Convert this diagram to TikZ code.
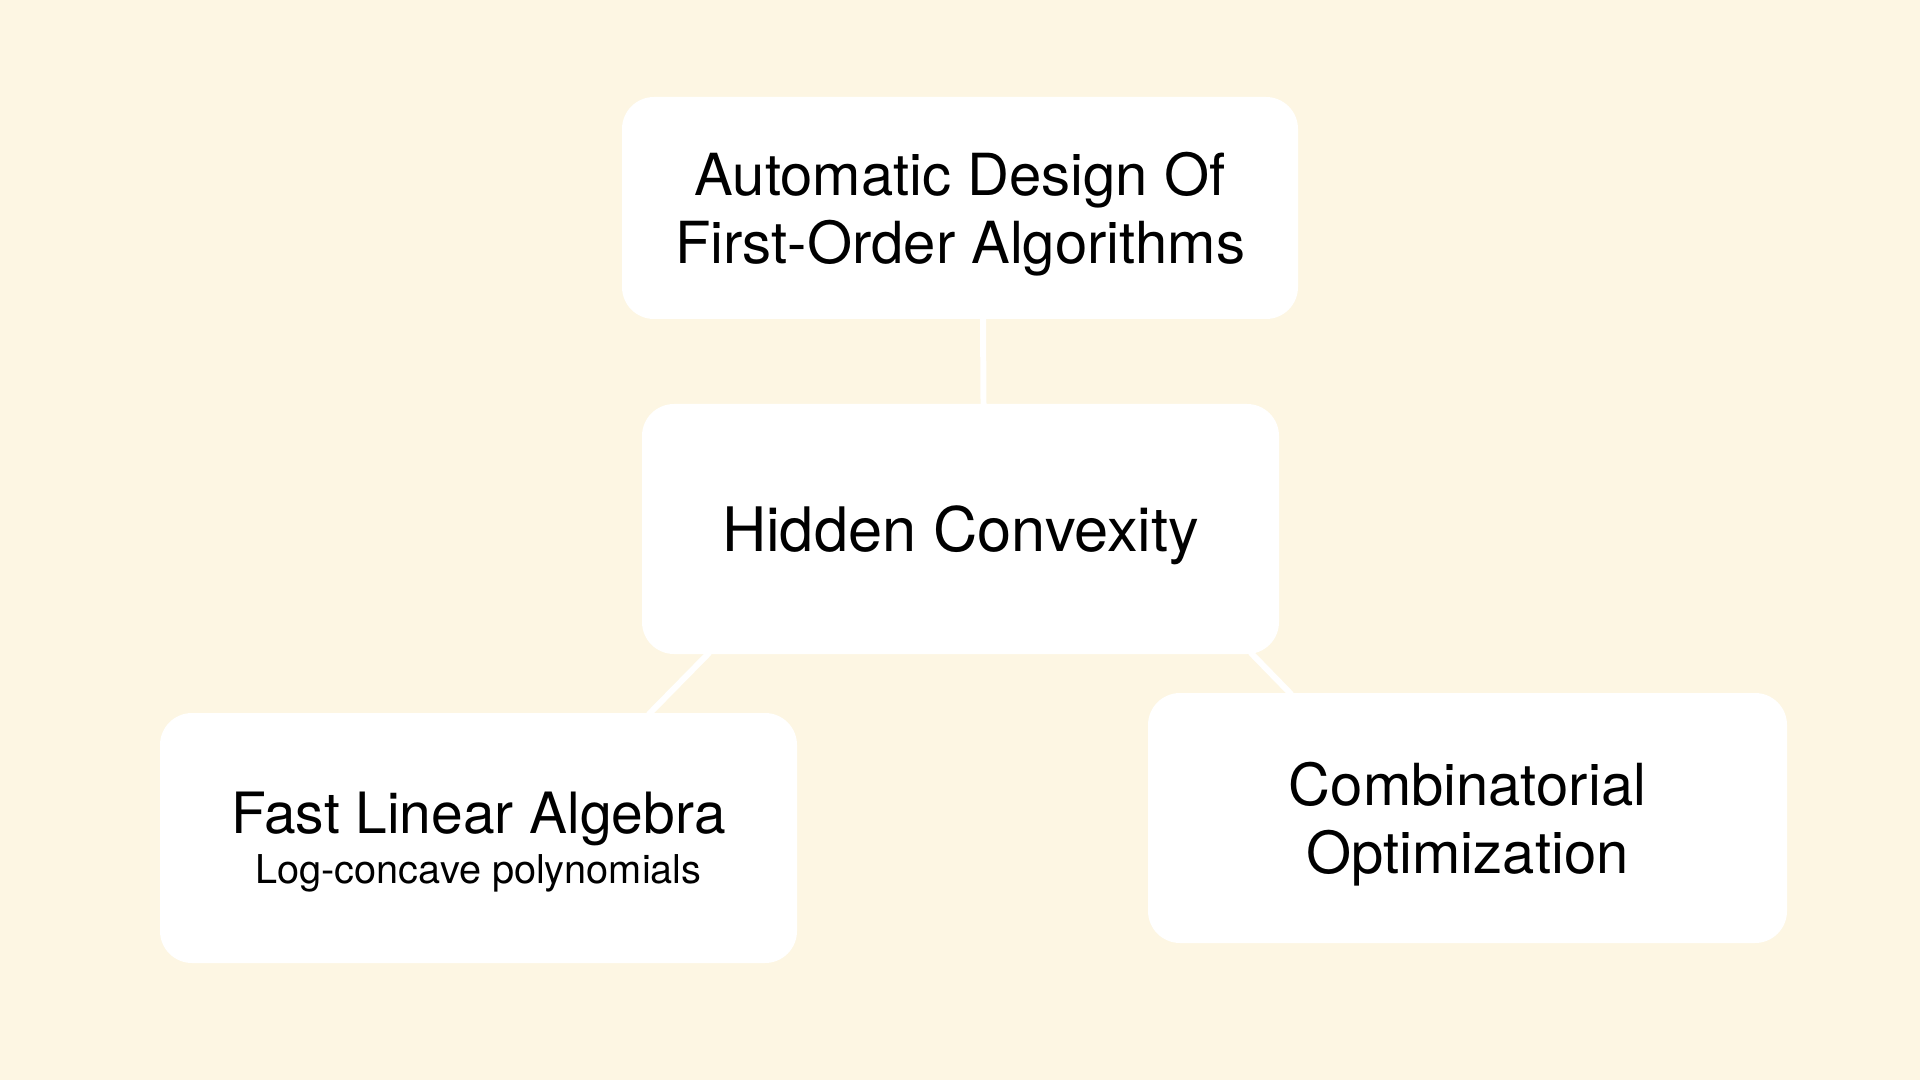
\documentclass[tikz,border=0pt]{standalone}
\usepackage{fontspec}
\setmainfont{TeX Gyre Heros}
\usepackage{tikz}
\usetikzlibrary{calc}
\definecolor{creambg}{HTML}{FDF6E3}

\begin{document}
\begin{tikzpicture}[
        topic/.style={fill=white, rounded corners=0.32cm, align=center,
            inner sep=0pt, text depth=0pt,
            font=\fontsize{16.5}{19.35}\selectfont},
        link/.style={white, line width=1.7pt, line cap=rect}]
        % draw the background
        \fill[creambg] (0cm,0cm) rectangle (19.2cm,-10.8cm);
        \useasboundingbox (0cm,0cm) rectangle (19.2cm,-10.8cm);

        % draw the boxes
        \node[topic, minimum width=6.76cm, minimum height=2.22cm] (design) at (9.60cm,-2.08cm)
            {Automatic Design Of\\First-Order Algorithms};
        \node[topic, minimum width=6.37cm, minimum height=2.50cm,
              font=\fontsize{17.45}{20.5}\selectfont] (hidden) at (9.605cm,-5.29cm)
            {Hidden Convexity};
        \node[topic, minimum width=6.37cm, minimum height=2.50cm,
              font=\fontsize{16.2}{19.35}\selectfont] (linalg) at (4.785cm,-8.38cm)
            {Fast Linear Algebra\\[-5.0pt]{\fontsize{11.3}{13.6}\selectfont Log-concave polynomials}};
        \node[topic, minimum width=6.39cm, minimum height=2.50cm] (combopt) at (14.675cm,-8.18cm)
            {Combinatorial\\Optimization};

        % draw the links between the boxes
        \draw[link] ([xshift=0.23cm]design.south) -- ([xshift=0.23cm]hidden.north);
        \draw[link] ([xshift=0.66cm]hidden.south west) -- ([xshift=-1.47cm]linalg.north east);
        \draw[link] ([xshift=-0.27cm]hidden.south east) -- ([xshift=1.42cm]combopt.north west);
\end{tikzpicture}
\end{document}
